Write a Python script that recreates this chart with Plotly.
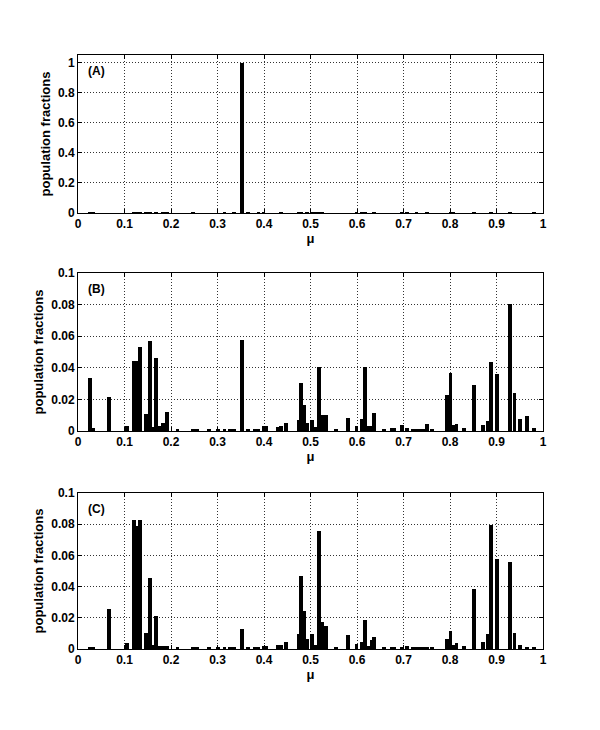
import plotly.graph_objects as go
from plotly.subplots import make_subplots

# mutation rate bins (mu) shared by the three panels
mu = [0.025, 0.032, 0.067, 0.105, 0.121, 0.127, 0.134, 0.147, 0.1555, 0.161,
      0.1675, 0.176, 0.182, 0.191, 0.214, 0.248, 0.256, 0.281, 0.301, 0.315,
      0.327, 0.335, 0.352, 0.366, 0.380, 0.388, 0.399, 0.405, 0.430, 0.436,
      0.4475, 0.474, 0.480, 0.4855, 0.492, 0.504, 0.510, 0.5185, 0.525, 0.534,
      0.555, 0.581, 0.599, 0.611, 0.618, 0.625, 0.632, 0.6365, 0.658, 0.674,
      0.680, 0.697, 0.708, 0.720, 0.728, 0.736, 0.744, 0.7505, 0.762, 0.7935,
      0.801, 0.806, 0.814, 0.8295, 0.851, 0.871, 0.8815, 0.889, 0.9015, 0.9288,
      0.9385, 0.950, 0.9654, 0.981]

pop_a = [0.005, 0.005, 0, 0, 0.005, 0.005, 0.005, 0.005, 0.005, 0,
         0.005, 0, 0.005, 0.005, 0, 0.005, 0, 0, 0, 0.005,
         0, 0.005, 1.0, 0.005, 0, 0.005, 0.005, 0, 0, 0.005,
         0, 0.005, 0.005, 0, 0.005, 0.005, 0.005, 0.005, 0.005, 0,
         0, 0, 0.005, 0.005, 0.005, 0, 0, 0.005, 0, 0,
         0, 0.005, 0.005, 0, 0.005, 0, 0, 0.005, 0, 0,
         0.005, 0.005, 0, 0, 0.005, 0, 0, 0.005, 0, 0.005,
         0, 0, 0, 0.005]

pop_b = [0.0337, 0.0018, 0.0215, 0.0032, 0.0445, 0.0445, 0.053, 0.0106, 0.057, 0.0025,
         0.0464, 0.003, 0.0051, 0.0122, 0.0015, 0.0012, 0.0012, 0.0012, 0.001, 0.0012,
         0.0012, 0.001, 0.0576, 0.0013, 0.0015, 0.0015, 0.003, 0.003, 0.0025, 0.003,
         0.0051, 0.0072, 0.0305, 0.0163, 0.0051, 0.0068, 0.0025, 0.0406, 0.0102, 0.0102,
         0.0015, 0.0085, 0.003, 0.0076, 0.0406, 0.003, 0.003, 0.0116, 0.0015, 0.0022,
         0.0022, 0.0036, 0.002, 0.0015, 0.0015, 0.0015, 0.0013, 0.0042, 0.0013, 0.0227,
         0.0368, 0.0036, 0.0047, 0.0021, 0.029, 0.0036, 0.0062, 0.0438, 0.036, 0.0805,
         0.0238, 0.0078, 0.0094, 0.0019]

pop_c = [0.001, 0.001, 0.0254, 0.0036, 0.083, 0.079, 0.0826, 0.0105, 0.0452, 0.0026,
         0.0211, 0.002, 0.002, 0.002, 0.0012, 0.001, 0.001, 0.001, 0.001, 0.001,
         0.001, 0.001, 0.0126, 0.0011, 0.0013, 0.0013, 0.002, 0.002, 0.0026, 0.0026,
         0.0047, 0.0094, 0.0467, 0.0243, 0.0062, 0.0096, 0.0023, 0.0756, 0.017, 0.0148,
         0.0015, 0.0087, 0.003, 0.0047, 0.0186, 0.002, 0.0058, 0.0075, 0.0015, 0.0015,
         0.0015, 0.0015, 0.002, 0.0013, 0.0013, 0.0013, 0.0013, 0.0013, 0.0013, 0.0062,
         0.0117, 0.0026, 0.0036, 0.002, 0.0382, 0.0047, 0.0094, 0.0798, 0.058, 0.0559,
         0.0104, 0.0026, 0.0015, 0.001]

x_ticks = [i / 10 for i in range(11)]
x_labels = ["0", "0.1", "0.2", "0.3", "0.4", "0.5", "0.6", "0.7", "0.8", "0.9", "1"]
ya_ticks = [0, 0.2, 0.4, 0.6, 0.8, 1.0]
ya_labels = ["0", "0.2", "0.4", "0.6", "0.8", "1"]
ybc_ticks = [0, 0.02, 0.04, 0.06, 0.08, 0.1]
ybc_labels = ["0", "0.02", "0.04", "0.06", "0.08", "0.1"]
panels = ["(A)", "(B)", "(C)"]

fig = make_subplots(rows=3, cols=1)

for i, vals in enumerate([pop_a, pop_b, pop_c]):
    fig.add_trace(go.Bar(x=mu, y=vals, width=0.0082,
                         marker=dict(color="black", line=dict(width=0)),
                         showlegend=False), row=i + 1, col=1)

font = dict(family="Liberation Sans", size=12, color="black", weight="bold")
ax_style = dict(showline=True, linecolor="black", linewidth=1, mirror="ticks",
                ticks="inside", ticklen=4, tickcolor="black",
                showgrid=True, gridcolor="#333333", griddash="1px,2px", gridwidth=1,
                zeroline=False, tickfont=font)

domains = [[0.734, 1.0], [0.367, 0.633], [0.0, 0.2626]]
for i in range(3):
    fig.update_xaxes(range=[0, 1], tickvals=x_ticks, ticktext=x_labels,
                     title=dict(text="μ", font=dict(size=13, family="Liberation Sans",
                                                    color="black", weight="bold"),
                                standoff=0),
                     row=i + 1, col=1, **ax_style)
    if i == 0:
        fig.update_yaxes(range=[0, 1.05], tickvals=ya_ticks, ticktext=ya_labels,
                         row=1, col=1, **ax_style)
    else:
        fig.update_yaxes(range=[0, 0.1], tickvals=ybc_ticks, ticktext=ybc_labels,
                         row=i + 1, col=1, **ax_style)
    fig.update_yaxes(domain=domains[i], row=i + 1, col=1,
                     title=dict(text="population fractions",
                                font=dict(size=13, family="Liberation Sans",
                                          color="black", weight="bold"),
                                standoff=4))
    yref = "y domain" if i == 0 else "y%d domain" % (i + 1)
    xref = "x domain" if i == 0 else "x%d domain" % (i + 1)
    fig.add_annotation(text=panels[i], x=0.017, y=0.955, xref=xref, yref=yref,
                       xanchor="left", yanchor="top", showarrow=False,
                       font=dict(size=12, family="Liberation Sans", color="black",
                                 weight="bold"))

# page body adds an 8px margin, so the figure is a bit smaller than the window
fig.update_layout(width=584, height=714, plot_bgcolor="white", paper_bgcolor="white",
                  margin=dict(l=70, r=49, t=47, b=73), bargap=0)

fig.write_html("out.html")
